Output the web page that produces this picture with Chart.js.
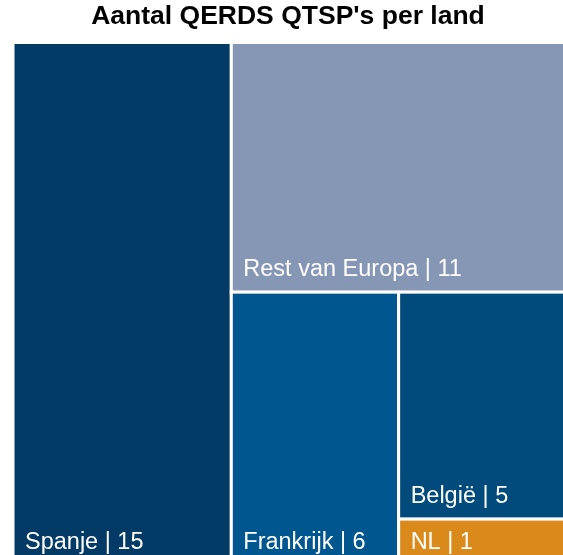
<!DOCTYPE html>
<html lang="nl">

<head>
   <meta charset="UTF-8">
   <title>Aantal QERDS QTSP's per land</title>
   <script src="https://cdn.jsdelivr.net/npm/chart.js"></script>
   <style>
      html, body { margin: 0; padding: 0; background: #fff; }
      canvas { display: block; }
   </style>
</head>

<body>
   <canvas id="treemap" width="563" height="555"></canvas>
</body>
<script>

   // aantal QTSP's per land
   const landen = ["Spanje", "Rest van Europa", "Frankrijk", "België", "NL"];
   const aantallen = [15, 11, 6, 5, 1];
   const kleuren = ["#043a66", "#8696b5", "#00568e", "#004a7c", "#da8a1a"];

   // zichtbaar deel van de assen, het vlak loopt iets voorbij de rand
   const asBreedte = 550;
   const asHoogte = 512.5;
   const vlakBreedte = 553;
   const vlakHoogte = 522;

   // simpele slice-layout: steeds langs de langste zijde snijden
   function maakTegels(waarden, x, y, b, h) {
      const tegels = [];
      let rest = waarden.reduce((a, v) => a + v, 0);
      for (let i = 0; i < waarden.length; i++) {
         const v = waarden[i];
         if (i == waarden.length - 1) {
            tegels.push({ x0: x, y0: y, x1: x + b, y1: y + h });
            break;
         }
         const deel = v / rest;
         if (b >= h) {
            const w = b * deel;
            tegels.push({ x0: x, y0: y, x1: x + w, y1: y + h });
            x += w; b -= w;
         } else {
            const hh = h * deel;
            tegels.push({ x0: x, y0: y, x1: x + b, y1: y + hh });
            y += hh; h -= hh;
         }
         rest -= v;
      }
      return tegels;
   }

   const tegels = maakTegels(aantallen, 0, 0, vlakBreedte, vlakHoogte);

   const tegelPlugin = {
      id: "tegels",
      afterDatasetsDraw(chart) {
         const ctx = chart.ctx;
         const sx = chart.scales.x;
         const sy = chart.scales.y;
         ctx.save();
         tegels.forEach(function (t, i) {
            const left = sx.getPixelForValue(t.x0);
            const right = sx.getPixelForValue(t.x1);
            const top = sy.getPixelForValue(t.y0);
            const bottom = sy.getPixelForValue(t.y1);
            ctx.fillStyle = kleuren[i];
            ctx.fillRect(left, top, right - left, bottom - top);
            ctx.strokeStyle = "#ffffff";
            ctx.lineWidth = 3;
            ctx.strokeRect(left, top, right - left, bottom - top);

            ctx.fillStyle = "#ffffff";
            ctx.font = "23.5px 'Liberation Sans', Arial, sans-serif";
            ctx.textAlign = "left";
            ctx.textBaseline = "alphabetic";
            ctx.fillText(landen[i] + " | " + aantallen[i], left + 12, bottom - 16);
         });
         ctx.restore();
      }
   };

   new Chart(document.getElementById("treemap"), {
      type: "scatter",
      data: {
         datasets: [{
            label: "QTSP's",
            data: tegels.map(t => ({ x: (t.x0 + t.x1) / 2, y: (t.y0 + t.y1) / 2 })),
            pointRadius: 0
         }]
      },
      options: {
         responsive: false,
         animation: false,
         layout: { padding: { left: 13, right: 0, top: 0, bottom: 0 } },
         scales: {
            x: { type: "linear", min: 0, max: asBreedte, display: false },
            y: { type: "linear", min: 0, max: asHoogte, reverse: true, display: false }
         },
         plugins: {
            legend: { display: false },
            tooltip: { enabled: false },
            title: {
               display: true,
               text: "Aantal QERDS QTSP's per land",
               color: "#000000",
               font: { family: "'Liberation Sans', Arial, sans-serif", size: 26.5, weight: "bold", lineHeight: 1.2 },
               padding: { top: 1, bottom: 9.7 }
            }
         }
      },
      plugins: [tegelPlugin]
   });

</script>

</html>
